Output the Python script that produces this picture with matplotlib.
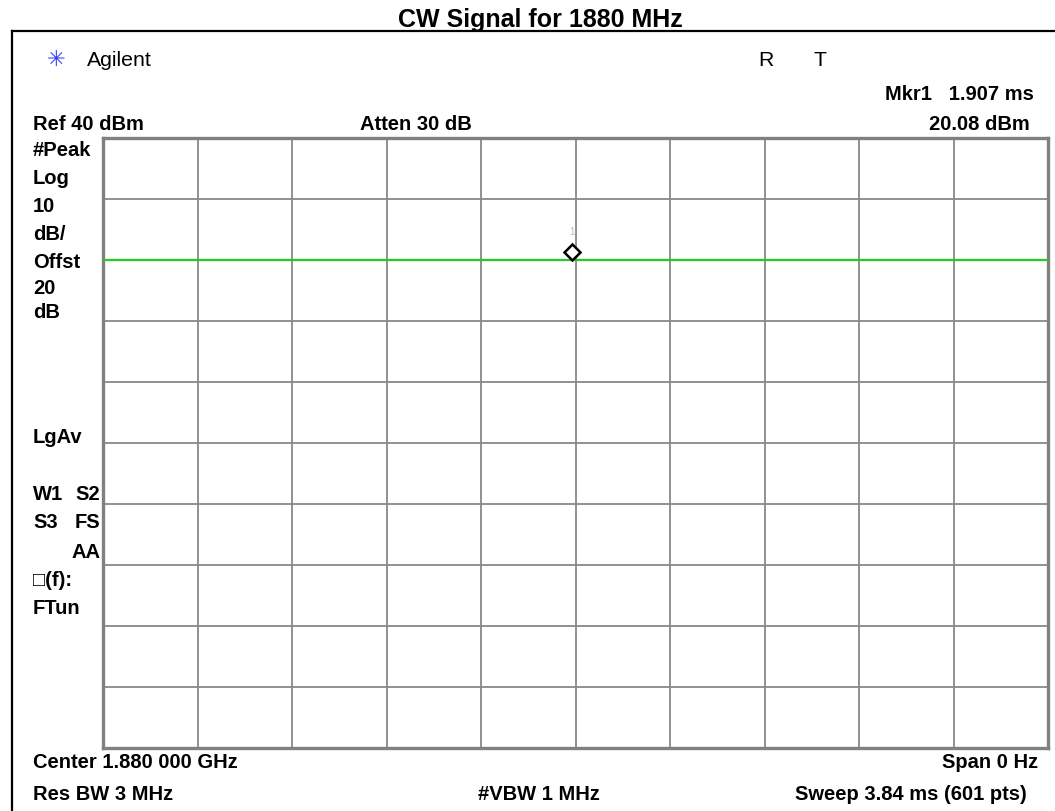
import matplotlib.pyplot as plt
import matplotlib.lines as mlines

# trace data (zero span, flat CW level)
trace_ms = [0.0, 3.84]
trace_dbm = [20.08, 20.08]
marker_ms = [1.907]
marker_dbm = [21.3]

sweep_ms = 3.84
ref_level = 40
div_db = 10

W, H = 1055, 811
fig = plt.figure(figsize=(W / 100, H / 100), dpi=100)
plt.rcParams['font.family'] = ['Liberation Sans', 'DejaVu Sans']


def px(x, y):
    return x / W, 1 - y / H


l, r, t, b = 103, 1048, 138, 748
ax = fig.add_axes([l / W, 1 - b / H, (r - l) / W, (b - t) / H])
ax.set_xlim(0, sweep_ms)
ax.set_ylim(ref_level - 10 * div_db, ref_level)
ax.set_xticks([sweep_ms * i / 10 for i in range(11)])
ax.set_yticks([ref_level - div_db * i for i in range(11)])
ax.tick_params(length=0, labelbottom=False, labelleft=False)
ax.grid(True, color='#888888', linewidth=1.3)
for s in ax.spines.values():
    s.set_color('#808080')
    s.set_linewidth(2.4)

ax.plot(trace_ms, trace_dbm, color='#22cc22', linewidth=1.6, zorder=3)
ax.plot(marker_ms, marker_dbm, marker='D', markersize=8, markerfacecolor='white',
        markeredgecolor='black', markeredgewidth=1.8, linestyle='none', zorder=4)
ax.text(marker_ms[0], 24.6, '1', color='#bbbbbb', fontsize=7, ha='center', va='center')

# outer frame (left and top)
fig.add_artist(mlines.Line2D([12 / W, 12 / W], [1 - 31 / H, 0], color='black', linewidth=1.6))
fig.add_artist(mlines.Line2D([12 / W, 1], [1 - 31 / H, 1 - 31 / H], color='black', linewidth=1.6))

fig.text(*px(540, 27), 'CW Signal for 1880 MHz', fontsize=18, fontweight='bold',
         ha='center', va='baseline')

fig.text(*px(56, 60), '✳', fontsize=16, color='#3344ee', ha='center', va='center',
         family='DejaVu Sans')
fig.text(*px(87, 60), 'Agilent', fontsize=15.3, ha='left', va='center')
fig.text(*px(766, 60), 'R', fontsize=15.3, ha='center', va='center')
fig.text(*px(820, 60), 'T', fontsize=15.3, ha='center', va='center')

fs = 14.5
bold = dict(fontsize=fs, fontweight='bold', va='center')
fig.text(*px(1034, 95), 'Mkr1   1.907 ms', ha='right', **bold)
fig.text(*px(1030, 124), '20.08 dBm', ha='right', **bold)
fig.text(*px(33, 124), 'Ref 40 dBm', ha='left', **bold)
fig.text(*px(360, 124), 'Atten 30 dB', ha='left', **bold)

left_labels = [('#Peak', 150), ('Log', 178), ('10', 206), ('dB/', 234),
               ('Offst', 263), ('20', 289), ('dB', 313), ('LgAv', 437),
               ('W1', 495), ('S3', 523), ('\u25a1(f):', 580), ('FTun', 608)]
for txt, y in left_labels:
    fig.text(*px(33, y), txt, ha='left', **bold)
for txt, y in [('S2', 495), ('FS', 523), ('AA', 552)]:
    fig.text(*px(100, y), txt, ha='right', **bold)

fig.text(*px(33, 763), 'Center 1.880 000 GHz', ha='left', **bold)
fig.text(*px(33, 795), 'Res BW 3 MHz', ha='left', **bold)
fig.text(*px(539, 795), '#VBW 1 MHz', ha='center', **bold)
fig.text(*px(1038, 763), 'Span 0 Hz', ha='right', **bold)
fig.text(*px(1027, 795), 'Sweep 3.84 ms (601 pts)', ha='right', **bold)

fig.savefig('out.png', dpi=100)
